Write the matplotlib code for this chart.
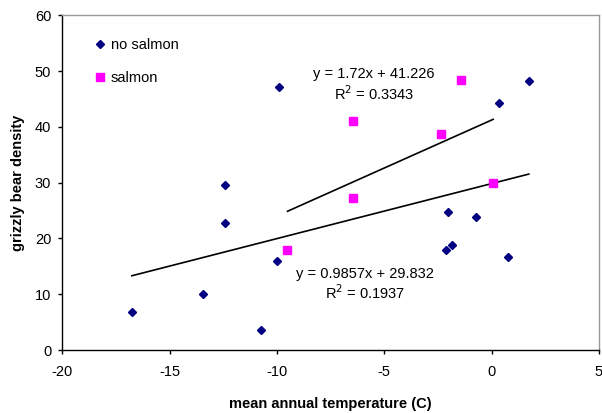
import matplotlib
matplotlib.use("Agg")
import matplotlib.pyplot as plt
import numpy as np

plt.rcParams['font.family'] = ['Liberation Sans', 'DejaVu Sans']

# --- data ---
no_salmon_x = [-16.76, -13.46, -12.43, -12.42, -10.74, -10.02, -9.90,
               -2.13, -2.05, -1.86, -0.72, 0.33, 0.77, 1.73]
no_salmon_y = [6.8, 10.1, 29.5, 22.8, 3.5, 15.9, 47.1,
               18.0, 24.8, 18.9, 23.8, 44.2, 16.6, 48.2]
salmon_x = [-9.51, -6.45, -6.45, -2.38, -1.45, 0.07]
salmon_y = [18.0, 41.0, 27.2, 38.7, 48.4, 30.0]

# trendline coefficients (as printed on chart)
no_salmon_slope, no_salmon_intercept, no_salmon_r2 = 0.9857, 29.832, 0.1937
salmon_slope, salmon_intercept, salmon_r2 = 1.72, 41.226, 0.3343

x_ticks = [-20, -15, -10, -5, 0, 5]
y_ticks = [0, 10, 20, 30, 40, 50, 60]

FS = 10.5

fig = plt.figure(figsize=(6.02, 4.13), dpi=100)
ax = fig.add_axes([0.1035, 0.1525, 0.8915, 0.8105])

ax.plot(no_salmon_x, no_salmon_y, linestyle='none', marker='D', ms=4.0,
        color='#000080', label='no salmon', zorder=3)
ax.plot(salmon_x, salmon_y, linestyle='none', marker='s', ms=6.0,
        color='#FF00FF', label='salmon', zorder=3)

# trend lines
xs = np.array([min(no_salmon_x), max(no_salmon_x)])
ax.plot(xs, no_salmon_slope * xs + no_salmon_intercept, color='black', lw=1.2, zorder=2)
xs2 = np.array([min(salmon_x), max(salmon_x)])
ax.plot(xs2, salmon_slope * xs2 + salmon_intercept, color='black', lw=1.2, zorder=2)

ax.text(-5.49, 49.4, f"y = {salmon_slope}x + {salmon_intercept}", ha='center', va='center', fontsize=FS)
ax.text(-5.49, 46.0, f"R$^2$ = {salmon_r2}", ha='center', va='center', fontsize=FS)
ax.text(-5.90, 13.65, f"y = {no_salmon_slope}x + {no_salmon_intercept}", ha='center', va='center', fontsize=FS)
ax.text(-5.90, 10.24, f"R$^2$ = {no_salmon_r2}", ha='center', va='center', fontsize=FS)

ax.set_xlim(-20, 5)
ax.set_ylim(0, 60)
ax.set_xticks(x_ticks)
ax.set_yticks(y_ticks)
ax.set_xticklabels([str(t) for t in x_ticks])
ax.set_yticklabels([str(t) for t in y_ticks])
ax.tick_params(direction='out', length=3, width=1, labelsize=FS, colors='black')
ax.tick_params(axis='x', pad=7.5)
ax.tick_params(axis='y', pad=5)

for s in ['left', 'bottom']:
    ax.spines[s].set_color('black')
    ax.spines[s].set_linewidth(1.0)
for s in ['top', 'right']:
    ax.spines[s].set_color('#999999')
    ax.spines[s].set_linewidth(1.0)

ax.set_xlabel('mean annual temperature (C)', fontsize=FS, fontweight='bold', labelpad=13)
ax.set_ylabel('grizzly bear density', fontsize=FS, fontweight='bold', labelpad=7)

ax.legend(loc='upper left', bbox_to_anchor=(0.060, 0.932), frameon=False,
          fontsize=FS, handlelength=0.8, handletextpad=0.3, labelspacing=1.3,
          borderaxespad=0, borderpad=0)

fig.savefig('out.png', dpi=100)
